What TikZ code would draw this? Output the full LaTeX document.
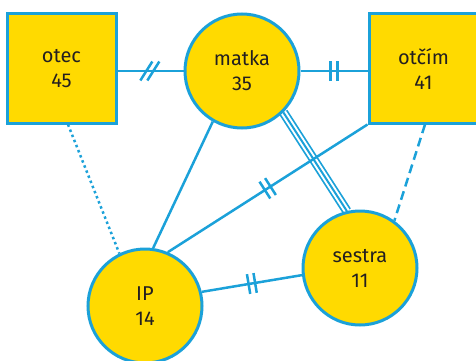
\documentclass[tikz,border=0pt]{standalone}
\usepackage{fontspec}
\setmainfont{Fira Sans}
\usetikzlibrary{decorations.markings,backgrounds}

\definecolor{genoyellow}{HTML}{FFDA00}
\definecolor{genoblue}{HTML}{1BA1D9}
\definecolor{genotext}{HTML}{231F20}

\begin{document}
\begin{tikzpicture}[x=1pt,y=-1pt]
	\tikzstyle{Person}	= [draw=genoblue, fill=genoyellow, line width=3pt, inner sep=0pt, align=center, text=genotext, font=\fontsize{20}{25}\selectfont]
	\tikzstyle{Female}	= [Person, circle, minimum size=114pt]
	\tikzstyle{Male}	= [Person, rectangle, minimum size=109pt]
	\tikzstyle{Tie}		= [genoblue, line width=2.5pt]
	\tikzstyle{TwoBars}	= [postaction={decorate, decoration={markings, mark=at position 0.5 with {\draw[genoblue, line width=2.5pt] (-3.3pt,-10pt) -- (-3.3pt,10pt) (3.3pt,-10pt) -- (3.3pt,10pt);}}}]
	\tikzstyle{TwoSlash}	= [postaction={decorate, decoration={markings, mark=at position 0.49 with {\draw[genoblue, line width=2.5pt] (-9.5pt,-9.5pt) -- (2.5pt,9.5pt) (-2.5pt,-9.5pt) -- (9.5pt,9.5pt);}}}]

	\useasboundingbox (0,0) rectangle (476,361);

	\node (otec) at (61.5,68.5) [Male] {otec\\45};
	\node (otcim) at (423.5,68.5) [Male] {otčím\\41};
	\node (matka) at (242,71) [Female] {matka\\35};
	\node (sestra) at (360,268) [Female] {sestra\\11};
	\node (ip) at (145,306) [Female] {IP\\14};

	\begin{scope}[on background layer]
		% trojita vazba matka - sestra
		\draw [Tie, line width=9.5pt] (matka.-45) to (sestra.103);
		\draw [white, line width=6pt] (matka.-45) to (sestra.103);
		\draw [Tie, line width=2pt] (matka.-45) to (sestra.103);

		\draw [Tie][TwoSlash] (otec.east |- matka.west) to (matka.west);
		\draw [Tie][TwoBars] (matka.east) to (otcim.west |- matka.east);
		\draw [Tie] (matka.240) to (ip.82);
		\draw [Tie][TwoBars] (otcim.south west) to (ip.67);
		\draw [Tie][TwoBars] (ip.14) to (sestra.187);
		\draw [Tie, dash pattern=on 2.5pt off 3pt] ([xshift=6.5pt]otec.south) to (ip.116);
		\draw [Tie, dash pattern=on 9pt off 5pt] ([xshift=1.5pt]otcim.south) to (sestra.54);
	\end{scope}
\end{tikzpicture}
\end{document}
